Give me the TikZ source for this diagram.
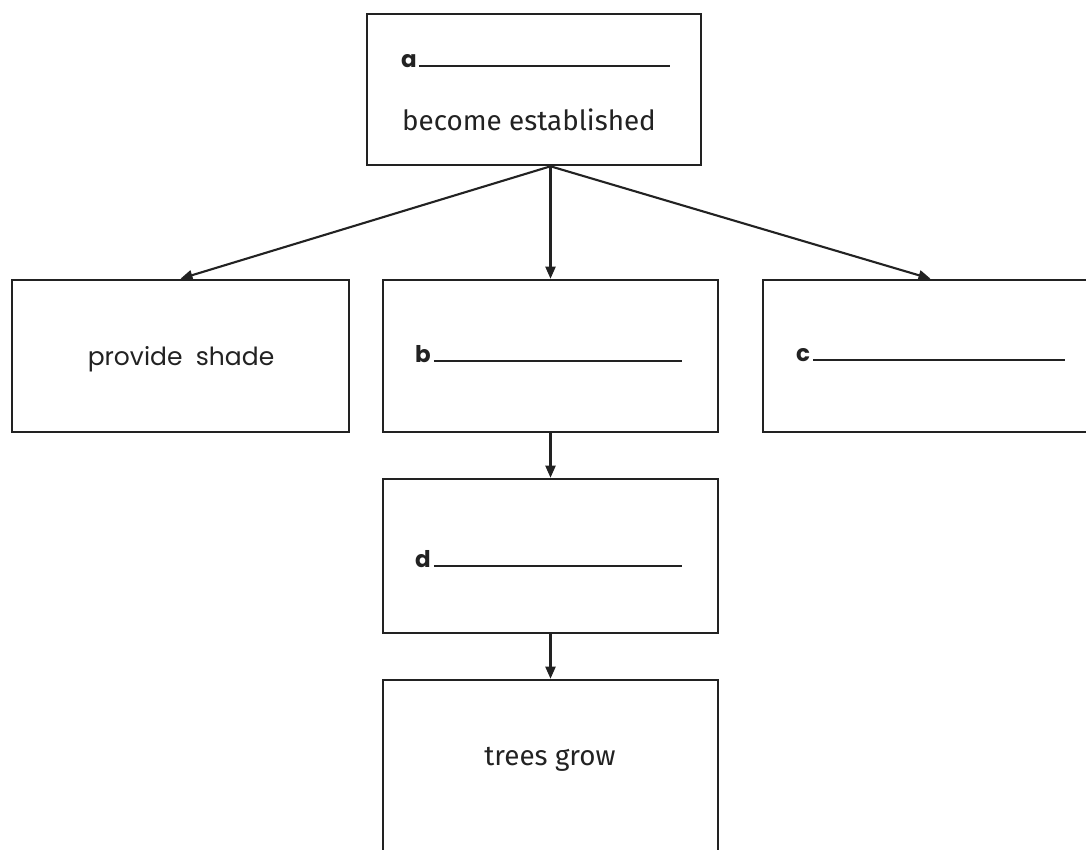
\documentclass[tikz,border=0pt]{standalone}
\usepackage{fontspec}
\setmainfont{Fira Sans}
\newfontfamily\geofont{Poppins}
\usetikzlibrary{arrows.meta,calc}
\definecolor{ink}{HTML}{222222}
\begin{document}
\begin{tikzpicture}[x=1pt,y=-1pt,
  box/.style={draw=ink,line width=2.6pt,minimum width=335pt,minimum height=152pt,inner sep=0pt},
  link/.style={draw=ink,line width=2.1pt,-{Triangle[length=12pt,width=10pt]}},
  blank/.style={anchor=base west,inner sep=0pt,text=ink,font=\geofont\bfseries\fontsize{23}{23}\selectfont},
  plain/.style={anchor=base,inner sep=0pt,text=ink,font=\fontsize{27.8}{28}\selectfont},
  geo/.style={anchor=base,inner sep=0pt,text=ink,font=\geofont\fontsize{25}{25}\selectfont}]
\useasboundingbox (0,0) rectangle (1086,849);
\clip (0,0) rectangle (1086,849);
\fill[white] (0,0) rectangle (1086,849);

% boxes
\node[box,minimum width=334pt,minimum height=151pt] (top) at (534,89.5) {};
\node[box,minimum width=337pt] (shade) at (180.5,356) {};
\node[box] (b) at (550.5,356) {};
\node[box] (c) at (930.5,356) {};
\node[box,minimum height=154pt] (d) at (550.5,556) {};
\node[box,minimum height=200pt] (trees) at (550.5,780) {};

% texts
\node[blank] (ta) at (401,67) {a\hspace{2pt}\rule{251pt}{1.8pt}};
\node[plain] (tb) at (529,130) {become established};
\node[geo] (tshade) at (181,365) {provide\ \ shade};
\node[blank] (tbb) at (415,362) {b\hspace{3pt}\rule{248pt}{1.8pt}};
\node[blank] (tc) at (796,361) {c\hspace{3pt}\rule{252pt}{1.8pt}};
\node[blank] (td) at (415,567) {d\hspace{3pt}\rule{248pt}{1.8pt}};
\node[plain] (ttrees) at (550,765) {trees grow};

% connectors
\coordinate (hub) at (top.south -| b.north);
\draw[link] (hub) -- (shade.north);
\draw[link] (hub) -- (b.north);
\draw[link] (hub) -- (c.north);
\draw[link] (b.south) -- (d.north);
\draw[link] (d.south) -- (trees.north);
\end{tikzpicture}
\end{document}
